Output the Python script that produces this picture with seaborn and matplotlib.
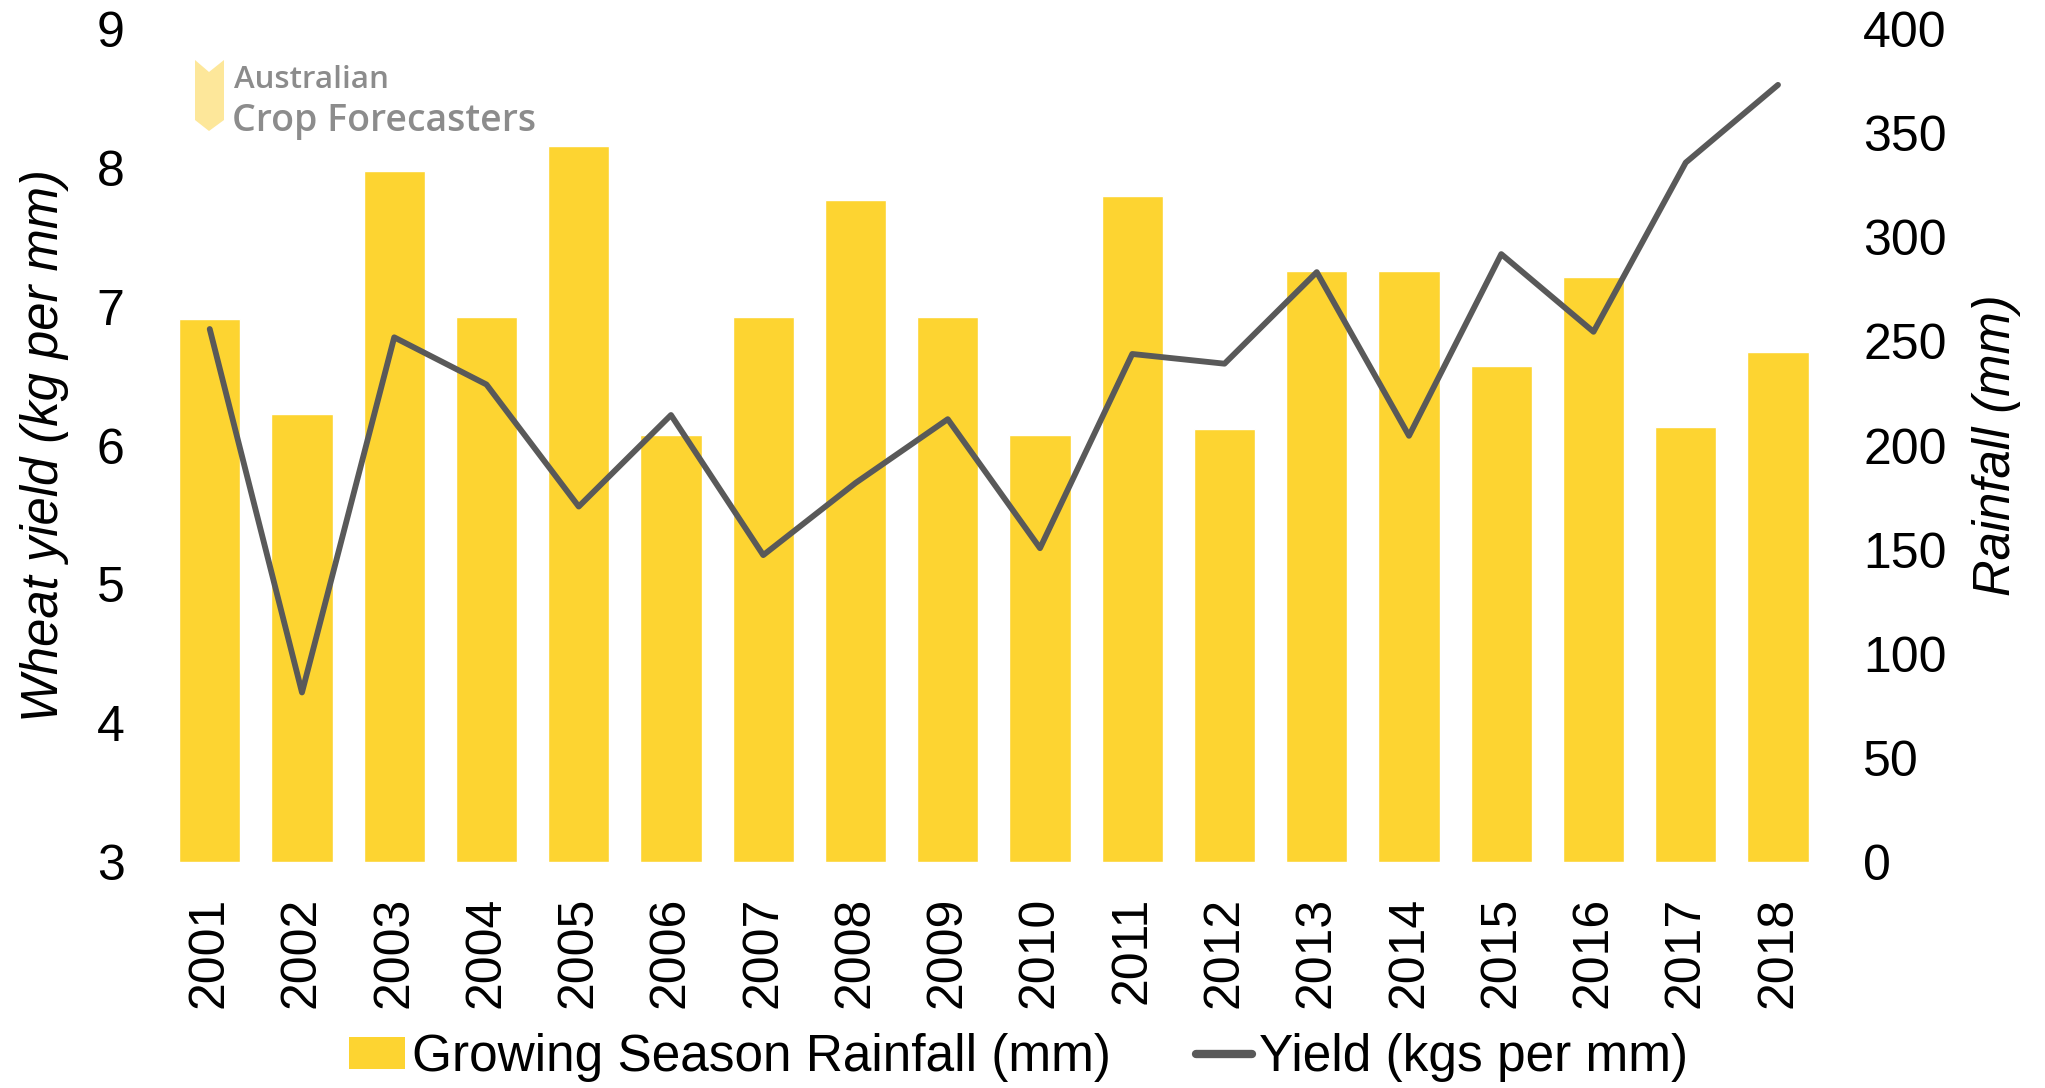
import seaborn as sns
import pandas as pd
import matplotlib.pyplot as plt
from matplotlib.patches import Polygon, Patch
from matplotlib.lines import Line2D

years = [str(y) for y in range(2001, 2019)]
rainfall = [261, 215, 332, 262, 344, 205, 262, 318, 262, 205, 320, 208, 284, 284, 238, 281, 209, 245]
wheat_yield = [6.84, 4.22, 6.78, 6.44, 5.56, 6.22, 5.21, 5.73, 6.19, 5.26, 6.66, 6.59, 7.25, 6.07, 7.38, 6.82, 8.04, 8.60]

bar_color = '#FDD431'
line_color = '#595959'

df = pd.DataFrame({'year': years, 'rain': rainfall, 'yield': wheat_yield})
df['pos'] = range(len(df))

sns.set_style('white')
plt.rcParams['font.family'] = ['Liberation Sans', 'DejaVu Sans']
for k in ('text.color', 'axes.labelcolor', 'xtick.color', 'ytick.color'):
    plt.rcParams[k] = 'black'

fig = plt.figure(figsize=(20.45, 10.88), dpi=100)
ax = fig.add_axes([0.080, 0.208, 0.812, 0.765])

# bars on the base axes (right scale), line on the twin (left scale) so it sits on top
sns.barplot(data=df, x='year', y='rain', color=bar_color, saturation=1, width=0.665, ax=ax)
ax2 = ax.twinx()
sns.lineplot(data=df, x='pos', y='yield', color=line_color, linewidth=4.2, ax=ax2)
ax2.lines[0].set_solid_capstyle('round')
ax2.lines[0].set_solid_joinstyle('round')

ax.set_xlim(-0.5, len(df) - 0.5)
ax.set_ylim(0, 400)
ax2.set_ylim(3, 9)
ax.set_yticks(range(0, 401, 50))
ax2.set_yticks(range(3, 10))

# swap sides: rainfall on right, yield on left
ax.yaxis.tick_right()
ax.yaxis.set_label_position('right')
ax2.yaxis.tick_left()
ax2.yaxis.set_label_position('left')

for a in (ax, ax2):
    for s in a.spines.values():
        s.set_visible(False)

ax.tick_params(axis='y', length=0, labelsize=36, pad=28, labelright=True, labelleft=False)
ax.tick_params(axis='x', length=0, labelsize=36, pad=25, labelrotation=90)
ax2.tick_params(axis='y', length=0, labelsize=36, pad=28, labelleft=True, labelright=False)

ax.set_xlabel('')
ax.set_ylabel('Rainfall (mm)', fontsize=36.5, style='italic', rotation=90, labelpad=18)
ax2.set_ylabel('Wheat yield (kg per mm)', fontsize=36.5, style='italic', labelpad=20)
ax2.set_xlabel('')

# logo
W, H = 2045, 1088
pts = [(195, 60), (209, 72), (224, 60), (224, 120), (209, 131), (195, 120)]
fig.patches.append(Polygon([(x / W, 1 - y / H) for x, y in pts], closed=True,
                           transform=fig.transFigure, facecolor='#FDE79A', edgecolor='none'))
fig.text(234 / W, 1 - 88 / H, 'Australian', fontsize=22.5, color='#8C8C8C', weight='semibold',
         family=['Open Sans', 'DejaVu Sans'], va='baseline', ha='left')
fig.text(232 / W, 1 - 131 / H, 'Crop Forecasters', fontsize=27, color='#8C8C8C', weight='semibold',
         family=['Open Sans', 'DejaVu Sans'], va='baseline', ha='left')

handles = [Patch(facecolor=bar_color, edgecolor='none'),
           Line2D([], [], color=line_color, linewidth=6, solid_capstyle='round')]
fig.legend(handles, ['Growing Season Rainfall (mm)', 'Yield (kgs per mm)'],
           loc='center', bbox_to_anchor=(0.498, 0.028), ncol=2, frameon=False,
           fontsize=37, handlelength=1.1, handleheight=0.6, handletextpad=0.13,
           columnspacing=1.65)

plt.savefig('out.png', dpi=100)
